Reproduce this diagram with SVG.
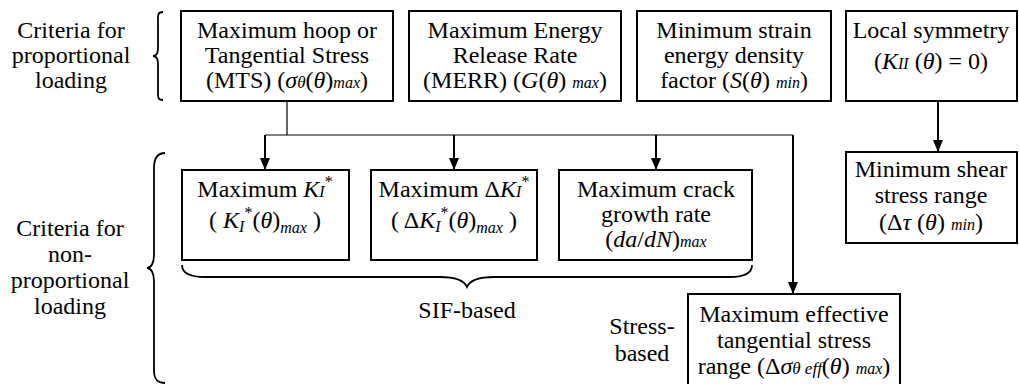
<svg xmlns="http://www.w3.org/2000/svg" width="1019" height="384" viewBox="0 0 1019 384" font-family="'Liberation Serif', 'Times New Roman', 'DejaVu Serif', serif">
<style>
text{font-family:'Liberation Serif','Times New Roman','DejaVu Serif',serif;font-size:24px;fill:#000;text-anchor:middle}
.box{fill:#fff;stroke:#000;stroke-width:2}
.ln{fill:none;stroke:#000;stroke-width:1.2}
.ar{fill:none;stroke:#000;stroke-width:2}
.br{fill:none;stroke:#000;stroke-width:1.8}
.i{font-style:italic}
.s{font-size:16px}
.m{font-size:17px}
</style>
<defs>
<marker id="ah" viewBox="0 0 12 10" markerWidth="12" markerHeight="10" refX="12" refY="5" orient="auto" markerUnits="userSpaceOnUse">
<path d="M0,0 L12,5 L0,10 z" fill="#000"/>
</marker>
</defs>

<g id="labels">
<text x="71" y="38">Criteria for</text>
<text x="71" y="63">proportional</text>
<text x="71" y="88">loading</text>
<text x="70" y="236">Criteria for</text>
<text x="70" y="262">non-</text>
<text x="70" y="288">proportional</text>
<text x="70" y="314">loading</text>
<text x="467" y="318">SIF-based</text>
<text x="642" y="334">Stress-</text>
<text x="642" y="361">based</text>
</g>

<g id="braces">
<path class="br" d="M163,12 C157,12 158,16 158,22 L158,48 C158,54 156,56 153,56 C156,56 158,58 158,64 L158,90 C158,96 157,100 163,100"/>
<path class="br" d="M165,153 C157,153 154,158 154,168 L154,255 C154,263 151,268 147,268 C151,268 154,273 154,281 L154,370 C154,379 157,383 165,383"/>
<path class="br" d="M182,265 C182,273 190,277 205,277 L440,277 C455,277 464,280 467,287 C470,280 479,277 494,277 L730,277 C745,277 752,273 752,265"/>
</g>

<g id="connectors">
<path class="ln" d="M287,101 L287,135 M265,135 L793,135"/>
<line class="ar" x1="265" y1="135" x2="265" y2="170" marker-end="url(#ah)"/>
<line class="ar" x1="454" y1="135" x2="454" y2="170" marker-end="url(#ah)"/>
<line class="ar" x1="656" y1="135" x2="656" y2="170" marker-end="url(#ah)"/>
<line class="ar" x1="793" y1="135" x2="793" y2="294" marker-end="url(#ah)"/>
<line class="ar" x1="938" y1="101" x2="938" y2="152" marker-end="url(#ah)"/>
</g>

<g id="mts">
<rect class="box" x="181" y="11" width="212" height="90"/>
<text x="287" y="38">Maximum hoop or</text>
<text x="287" y="63">Tangential Stress</text>
<text x="287" y="88">(MTS) (<tspan class="i">σ</tspan><tspan class="i m">θ</tspan>(<tspan class="i">θ</tspan>)<tspan class="i s">max</tspan>)</text>
</g>

<g id="merr">
<rect class="box" x="409" y="11" width="212" height="90"/>
<text x="515" y="38">Maximum Energy</text>
<text x="515" y="63">Release Rate</text>
<text x="515" y="88">(MERR) (<tspan class="i">G</tspan>(<tspan class="i">θ</tspan>) <tspan class="i s">max</tspan>)</text>
</g>

<g id="sed">
<rect class="box" x="637" y="11" width="194" height="90"/>
<text x="734" y="38">Minimum strain</text>
<text x="734" y="63">energy density</text>
<text x="734" y="88">factor (<tspan class="i">S</tspan>(<tspan class="i">θ</tspan>) <tspan class="i s">min</tspan>)</text>
</g>

<g id="sym">
<rect class="box" x="846" y="11" width="171" height="90"/>
<text x="931" y="38">Local symmetry</text>
<text x="931" y="69">(<tspan class="i">K</tspan><tspan class="i s">II</tspan> (<tspan class="i">θ</tspan>) = 0)</text>
</g>

<g id="shear">
<rect class="box" x="846" y="152" width="171" height="91"/>
<text x="931" y="177">Minimum shear</text>
<text x="931" y="203">stress range</text>
<text x="931" y="230">(Δ<tspan class="i">τ</tspan> (<tspan class="i">θ</tspan>) <tspan class="i s">min</tspan>)</text>
</g>

<g id="ki">
<rect class="box" x="182" y="170" width="167" height="90"/>
<text x="265" y="197">Maximum <tspan class="i">K</tspan><tspan class="i s">I</tspan><tspan class="s" dy="-10">*</tspan></text>
<text x="265" y="228">( <tspan class="i">K</tspan><tspan class="i s" dy="4">I</tspan><tspan class="s" dy="-14">*</tspan><tspan dy="10">(</tspan><tspan class="i">θ</tspan>)<tspan class="i s" dy="5">max</tspan><tspan dy="-5"> )</tspan></text>
</g>

<g id="dki">
<rect class="box" x="371" y="170" width="166" height="90"/>
<text x="454" y="197">Maximum Δ<tspan class="i">K</tspan><tspan class="i s">I</tspan><tspan class="s" dy="-10">*</tspan></text>
<text x="454" y="228">( Δ<tspan class="i">K</tspan><tspan class="i s" dy="4">I</tspan><tspan class="s" dy="-14">*</tspan><tspan dy="10">(</tspan><tspan class="i">θ</tspan>)<tspan class="i s" dy="5">max</tspan><tspan dy="-5"> )</tspan></text>
</g>

<g id="dadn">
<rect class="box" x="559" y="170" width="193" height="90"/>
<text x="656" y="197">Maximum crack</text>
<text x="656" y="222">growth rate</text>
<text x="656" y="247">(<tspan class="i">da</tspan>/<tspan class="i">dN</tspan>)<tspan class="i s">max</tspan></text>
</g>

<g id="eff">
<rect class="box" x="688" y="294" width="212" height="92"/>
<text x="794" y="322">Maximum effective</text>
<text x="794" y="348">tangential stress</text>
<text x="794" y="374">range (Δ<tspan class="i">σ</tspan><tspan class="i m">θ eff</tspan>(<tspan class="i">θ</tspan>) <tspan class="i s">max</tspan>)</text>
</g>
</svg>
